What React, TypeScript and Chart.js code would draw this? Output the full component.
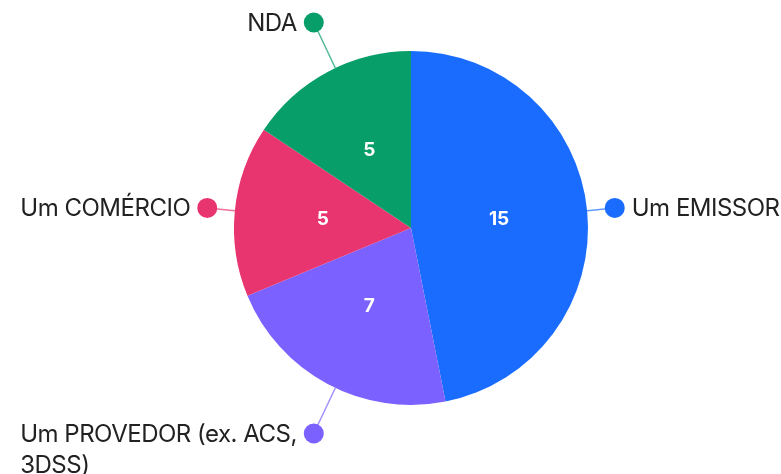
import React, { useEffect, useRef } from "react";
import { Chart, registerables } from "chart.js";

Chart.register(...registerables);

const categories: (string | string[])[] = [
  "Um EMISSOR",
  ["Um PROVEDOR (ex. ACS,", "3DSS)"],
  "Um COMÉRCIO",
  "NDA",
];
const values: number[] = [15, 7, 5, 5];
const colors: string[] = ["#1a6cff", "#7b61ff", "#e8346f", "#079e6a"];
const lineColors: string[] = [
  "rgba(26,108,255,0.7)",
  "rgba(123,97,255,0.7)",
  "rgba(232,52,111,0.7)",
  "rgba(7,158,106,0.7)",
];

const LABEL_FONT = "24px Inter";
const VALUE_FONT = "bold 19px Inter";

const calloutPlugin = {
  id: "callouts",
  afterDatasetsDraw(chart: any) {
    const ctx: CanvasRenderingContext2D = chart.ctx;
    const meta = chart.getDatasetMeta(0);
    meta.data.forEach((arc: any, i: number) => {
      const p = arc.getProps(["startAngle", "endAngle", "x", "y", "outerRadius"], true);
      const mid = (p.startAngle + p.endAngle) / 2;
      // value label
      const vr = p.outerRadius * 0.5;
      ctx.save();
      ctx.font = VALUE_FONT;
      ctx.fillStyle = "#ffffff";
      ctx.textAlign = "center";
      ctx.textBaseline = "middle";
      ctx.fillText(String(values[i]), p.x + Math.cos(mid) * vr, p.y + Math.sin(mid) * vr);
      ctx.restore();

      // callout angle: nudged slightly toward the vertical axis for top/bottom labels
      let a = Math.atan2(Math.sin(mid), Math.cos(mid));
      if (Math.abs(Math.sin(a)) > 0.6) {
        const target = Math.sin(a) > 0 ? Math.PI / 2 : -Math.PI / 2;
        a += Math.sign(target - a) * 0.049;
      }
      const cx = Math.cos(a);
      const sy = Math.sin(a);

      const ext = 25 + 28 * Math.abs(sy);
      const x0 = p.x + cx * p.outerRadius;
      const y0 = p.y + sy * p.outerRadius;
      const x1 = p.x + cx * (p.outerRadius + ext);
      const y1 = p.y + sy * (p.outerRadius + ext);
      ctx.save();
      ctx.strokeStyle = lineColors[i];
      ctx.lineWidth = 1.5;
      ctx.beginPath();
      ctx.moveTo(x0, y0);
      ctx.lineTo(x1, y1);
      ctx.stroke();
      ctx.fillStyle = colors[i];
      ctx.beginPath();
      ctx.arc(x1, y1, 10, 0, Math.PI * 2);
      ctx.fill();

      // text
      const lab = categories[i];
      const lines = Array.isArray(lab) ? lab : [lab];
      ctx.font = LABEL_FONT;
      (ctx as any).letterSpacing = "-0.5px";
      ctx.fillStyle = "#222222";
      ctx.textBaseline = "middle";
      ctx.textAlign = "left";
      const widths = lines.map((l) => ctx.measureText(l).width);
      const maxW = Math.max(...widths);
      const gap = 17;
      const lineH = 31;
      const tx = cx >= 0 ? x1 + gap : x1 - gap - maxW;
      lines.forEach((l, k) => {
        ctx.fillText(l, tx, y1 + 1 + k * lineH);
      });
      ctx.restore();
    });
  },
};

export default function App() {
  const ref = useRef<HTMLCanvasElement | null>(null);
  useEffect(() => {
    if (!ref.current) return;
    const chart = new Chart(ref.current, {
      type: "pie",
      data: {
        labels: categories as any,
        datasets: [
          {
            data: values,
            backgroundColor: colors,
            borderWidth: 0,
          },
        ],
      },
      options: {
        responsive: false,
        animation: false,
        layout: { padding: { left: 234, right: 193, top: 51, bottom: 69 } },
        plugins: {
          legend: { display: false },
          tooltip: { enabled: false },
        },
      },
      plugins: [calloutPlugin],
    });
    return () => chart.destroy();
  }, []);
  return (
    <div style={{ position: "absolute", left: 0, top: 0, width: 781, height: 474, background: "#fff" }}>
      <canvas ref={ref} width={781} height={474} />
    </div>
  );
}
